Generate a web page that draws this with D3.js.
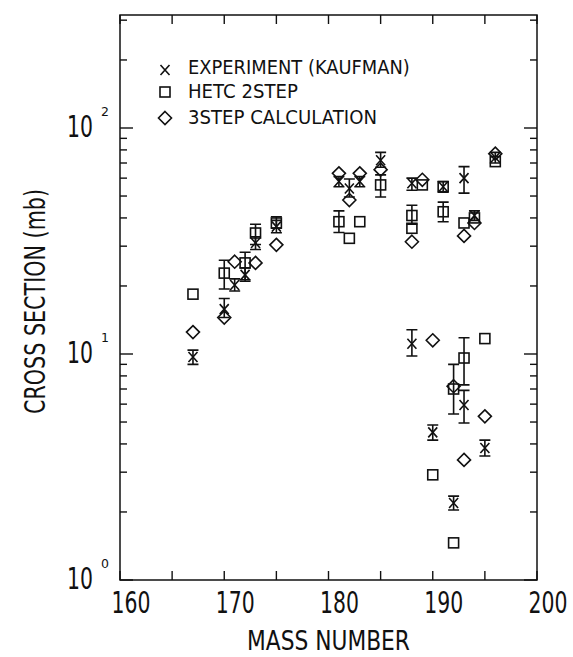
<!DOCTYPE html>
<html>
<head>
<meta charset="utf-8">
<script src="https://cdn.jsdelivr.net/npm/d3@7"></script>
<style>
  html, body { margin: 0; padding: 0; background: #fff; }
  text { font-family: "DejaVu Sans", sans-serif; fill: #111; }
</style>
</head>
<body>
<svg id="chart" width="573" height="657"></svg>
<script>
// ---- data (cross sections in mb) ----
const expMass  = [167, 170, 171, 172, 173, 175, 181, 182, 183, 185, 188, 191, 193, 194, 196, 188, 190, 192, 193, 195];
const expValue = [9.7, 15.8, 20.2, 22.4, 31, 36.6, 58, 54, 58, 72, 57, 55, 60, 41, 74, 11.1, 4.5, 2.19, 5.95, 3.84];
const expLow   = [9.0, 14.5, 19.0, 21.0, 29, 34.4, 55, 49.5, 55, 67, 53, 52, 51.5, 39, 70, 9.8, 4.16, 2.04, 4.95, 3.54];
const expHigh  = [10.4, 17.6, 21.5, 24.0, 33, 39, 61, 59.5, 61, 78, 60, 58, 67.5, 43, 78, 12.8, 4.85, 2.35, 6.9, 4.16];

const hetcMass  = [167, 170, 172, 173, 175, 181, 182, 183, 185, 188, 188, 189, 191, 191, 193, 194, 196, 190, 192, 192, 193, 195];
const hetcValue = [18.4, 22.8, 25.3, 34.3, 38, 38.5, 32.5, 38.5, 56, 41, 36, 56, 55, 42.6, 38, 40, 71, 2.92, 1.46, 7.0, 9.6, 11.7];
const hetcLow   = [null, 19.4, 21.3, 30.5, 36, 34.5, null, null, 49.5, 37.5, null, null, null, 38.5, null, null, null, null, null, 5.43, 7.3, null];
const hetcHigh  = [null, 26, 28.2, 37.5, 40.5, 43, null, null, 62, 45.5, null, null, null, 47, null, null, null, null, null, 9.0, 11.8, null];

const stepMass  = [167, 170, 171, 173, 175, 181, 182, 183, 185, 188, 189, 193, 194, 196, 190, 192, 193, 195];
const stepValue = [12.5, 14.5, 25.6, 25.3, 30.4, 63, 48, 63, 65.4, 31.4, 59, 33.3, 38, 77, 11.5, 7.2, 3.4, 5.3];

const xMajorTicks = [160, 170, 180, 190, 200];
const xMinorTicks = [165, 175, 185, 195];
const yMajorTicks = [1, 10, 100];
const yMajorExp   = ["0", "1", "2"];
const yMinorTicks = [2, 3, 4, 5, 6, 7, 8, 9, 20, 30, 40, 50, 60, 70, 80, 90, 200, 300];

const legendLabels = ["EXPERIMENT (KAUFMAN)", "HETC 2STEP", "3STEP CALCULATION"];
const xTitle = "MASS NUMBER";
const yTitle = "CROSS SECTION (mb)";

// ---- layout ----
const L = 120, R = 537, T = 15, B = 580;
const svg = d3.select("#chart");
const x = d3.scaleLinear().domain([160, 200]).range([L, R]);
const y = d3.scaleLog().domain([1, Math.pow(10, 2.5)]).range([B, T]);
const ink = "#111";

// condensed text helper: places text at (px,py) and squeezes it horizontally to width w
function fitText(str, px, py, size, w, anchor, rotate) {
  const t = svg.append("text").attr("x", 0).attr("y", 0)
    .attr("font-size", size).attr("text-anchor", anchor || "start").text(str);
  const nat = t.node().getComputedTextLength();
  const k = w / nat;
  t.attr("transform", `translate(${px},${py})${rotate ? " rotate(" + rotate + ")" : ""} scale(${k},1)`);
  return t;
}

// frame
svg.append("rect").attr("x", L).attr("y", T).attr("width", R - L).attr("height", B - T)
  .attr("fill", "none").attr("stroke", ink).attr("stroke-width", 1.5);

const g = svg.append("g").attr("stroke", ink).attr("stroke-width", 1.4).attr("fill", "none");

// x ticks (bottom, inward; top, inward)
xMajorTicks.concat(xMinorTicks).forEach(v => {
  const len = 9;
  g.append("line").attr("x1", x(v)).attr("x2", x(v)).attr("y1", B).attr("y2", B - len);
  g.append("line").attr("x1", x(v)).attr("x2", x(v)).attr("y1", T).attr("y2", T + len);
});
// y ticks (left and right inward)
yMajorTicks.forEach(v => {
  g.append("line").attr("x1", L).attr("x2", L + 13).attr("y1", y(v)).attr("y2", y(v));
  g.append("line").attr("x1", R).attr("x2", R - 13).attr("y1", y(v)).attr("y2", y(v));
});
yMinorTicks.forEach(v => {
  g.append("line").attr("x1", L).attr("x2", L + 7).attr("y1", y(v)).attr("y2", y(v));
  g.append("line").attr("x1", R).attr("x2", R - 7).attr("y1", y(v)).attr("y2", y(v));
});

// x tick labels
xMajorTicks.forEach(v => fitText(String(v), x(v) + 11, 613, 30, 39, "middle"));
// y tick labels 10^n
yMajorTicks.forEach((v, i) => {
  fitText("10", 93, y(v) + 9, 30, 26, "end");
  svg.append("text").attr("x", 101).attr("y", y(v) - 12)
    .attr("font-size", 12.5).text(yMajorExp[i]);
});

// axis titles
fitText(xTitle, (L + R) / 2, 650, 27, 163, "middle");
svg.append("text").attr("transform", `translate(45,${(T + B) / 2 + 4}) rotate(-90)`)
  .attr("text-anchor", "middle").attr("font-size", 28)
  .attr("textLength", 225).attr("lengthAdjust", "spacingAndGlyphs").text(yTitle);

// ---- marker drawers ----
const sw = 1.6;
function drawX(sel, cx, cy) {
  sel.append("path").attr("d", `M${cx-4.5},${cy-5}L${cx+4.5},${cy+5}M${cx+4.5},${cy-5}L${cx-4.5},${cy+5}`)
    .attr("stroke", ink).attr("stroke-width", sw).attr("fill", "none");
}
function drawSquare(sel, cx, cy) {
  sel.append("rect").attr("x", cx - 5).attr("y", cy - 5).attr("width", 10).attr("height", 10)
    .attr("stroke", ink).attr("stroke-width", sw).attr("fill", "none");
}
function drawDiamond(sel, cx, cy) {
  sel.append("path").attr("d", `M${cx},${cy-6.5}L${cx+6.5},${cy}L${cx},${cy+6.5}L${cx-6.5},${cy}Z`)
    .attr("stroke", ink).attr("stroke-width", sw).attr("fill", "none");
}
function drawErr(sel, cx, lo, hi) {
  const y1 = y(lo), y2 = y(hi), hw = 5.5;
  sel.append("path").attr("d", `M${cx},${y1}L${cx},${y2}M${cx-hw},${y1}L${cx+hw},${y1}M${cx-hw},${y2}L${cx+hw},${y2}`)
    .attr("stroke", ink).attr("stroke-width", sw).attr("fill", "none");
}

const marks = svg.append("g");
// HETC squares
hetcMass.forEach((m, i) => {
  if (hetcLow[i] != null) drawErr(marks, x(m), hetcLow[i], hetcHigh[i]);
  drawSquare(marks, x(m), y(hetcValue[i]));
});
// 3STEP diamonds
stepMass.forEach((m, i) => drawDiamond(marks, x(m), y(stepValue[i])));
// Experiment crosses
expMass.forEach((m, i) => {
  drawErr(marks, x(m), expLow[i], expHigh[i]);
  drawX(marks, x(m), y(expValue[i]));
});

// ---- legend ----
const legRows = [70, 92, 118];
const legBase = [74, 98, 124];
const legLen = [222, 110, 189];
drawX(svg, 165, legRows[0]);
drawSquare(svg, 165, legRows[1]);
drawDiamond(svg, 165, legRows[2]);
legendLabels.forEach((t, i) => fitText(t, 188, legBase[i], 20, legLen[i], "start"));
</script>
</body>
</html>
